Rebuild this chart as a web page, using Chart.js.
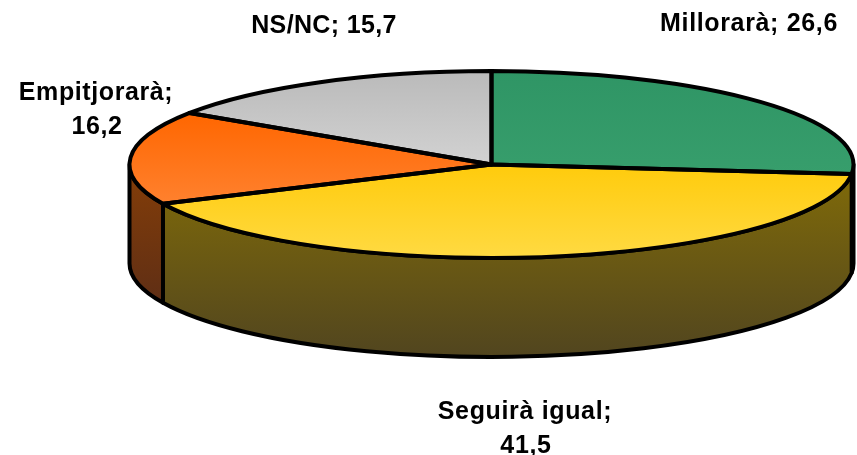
<!DOCTYPE html>
<html><head><meta charset="utf-8">
<style>html,body{margin:0;padding:0;background:#fff}canvas{display:block}</style>
<script src="https://cdn.jsdelivr.net/npm/chart.js@4"></script>
</head><body><canvas id="c" width="857" height="455"></canvas>
<script>
const categories = ["Millorarà", "Seguirà igual", "Empitjorarà", "NS/NC"];
const values = [26.6, 41.5, 16.2, 15.7];
const topColors = [["#2f9565","#379e6c"],["#ffcb0c","#ffda42"],["#ff6600","#ff812e"],["#bababa","#d2d2d2"]];
const wallColors = [["#1f5c3e","#153d2a"],["#826c08","#51451f"],["#853e08","#50281a"],["#777","#555"]];
const labelLines = [["Millorarà; 26,6"],["Seguirà igual;","41,5"],["Empitjorarà;","16,2"],["NS/NC; 15,7"]];
const labelPos = [[749,31,0.65],[525,419,0.65],[96,100,0.6],[324,33,0.35]];

const CX=491.5, CY=164.5, RX=362, RY=93.5, DEPTH=99, LW=4;
const total = values.reduce((a,b)=>a+b,0);

function sliceGradient(ctx){
  const i=ctx.dataIndex, c=ctx.chart.ctx;
  let s=0; for(let k=0;k<i;k++) s+=values[k];
  const a0=s/total*2*Math.PI, a1=(s+values[i])/total*2*Math.PI;
  const ys=[-Math.cos(a0),-Math.cos(a1),0];
  if(a0<=Math.PI&&a1>=Math.PI) ys.push(1);
  if(a1>=2*Math.PI-1e-6) ys.push(-1);
  const g=c.createLinearGradient(0,CY+RX*Math.min(...ys),0,CY+RX*Math.max(...ys));
  g.addColorStop(0,topColors[i][0]); g.addColorStop(1,topColors[i][1]);
  return g;
}

const pie3d={
  id:'pie3d',
  beforeDatasetsDraw(chart){
    const ctx=chart.ctx, arcs=chart.getDatasetMeta(0).data;
    ctx.save();
    ctx.lineWidth=LW; ctx.lineJoin='round'; ctx.strokeStyle='#000';
    arcs.forEach((arc,i)=>{
      const a0=Math.max(arc.startAngle,0), a1=Math.min(arc.endAngle,Math.PI);
      if(a0>=a1) return;
      const g=ctx.createLinearGradient(0,CY,0,CY+RY+DEPTH);
      g.addColorStop(0,wallColors[i][0]); g.addColorStop(1,wallColors[i][1]);
      ctx.beginPath();
      ctx.ellipse(CX,CY,RX,RY,0,a0,a1);
      ctx.ellipse(CX,CY+DEPTH,RX,RY,0,a1,a0,true);
      ctx.closePath();
      ctx.fillStyle=g; ctx.fill(); ctx.stroke();
    });
    ctx.restore();
    ctx.save();
    ctx.translate(CX,CY); ctx.scale(1,RY/RX); ctx.translate(-CX,-CY);
  },
  afterDatasetsDraw(chart){
    const ctx=chart.ctx, arcs=chart.getDatasetMeta(0).data;
    ctx.restore();
    ctx.save();
    ctx.lineWidth=LW; ctx.lineJoin='round'; ctx.strokeStyle='#000';
    arcs.forEach(arc=>{
      ctx.beginPath();
      ctx.moveTo(CX,CY);
      ctx.ellipse(CX,CY,RX,RY,0,arc.startAngle,arc.endAngle);
      ctx.closePath();
      ctx.stroke();
    });
    ctx.restore();
  },
  afterDraw(chart){
    const ctx=chart.ctx;
    ctx.save();
    ctx.fillStyle='#000';
    ctx.font='bold 25px "Liberation Sans", Arial, sans-serif';
    ctx.textAlign='center'; ctx.textBaseline='alphabetic';
    labelLines.forEach((lines,i)=>{
      const [x,y,sp]=labelPos[i];
      ctx.letterSpacing=sp+'px';
      lines.forEach((t,k)=>ctx.fillText(t,x+k,y+k*34));
    });
    ctx.restore();
  }
};

new Chart(document.getElementById('c'),{
  type:'pie',
  data:{labels:categories,datasets:[{data:values,backgroundColor:sliceGradient,borderWidth:0,radius:RX,clip:false}]},
  options:{
    responsive:false,animation:false,
    layout:{padding:{left:2*CX-857,bottom:455-2*CY}},
    plugins:{legend:{display:false},tooltip:{enabled:false}},
    events:[]
  },
  plugins:[pie3d]
});
</script></body></html>
